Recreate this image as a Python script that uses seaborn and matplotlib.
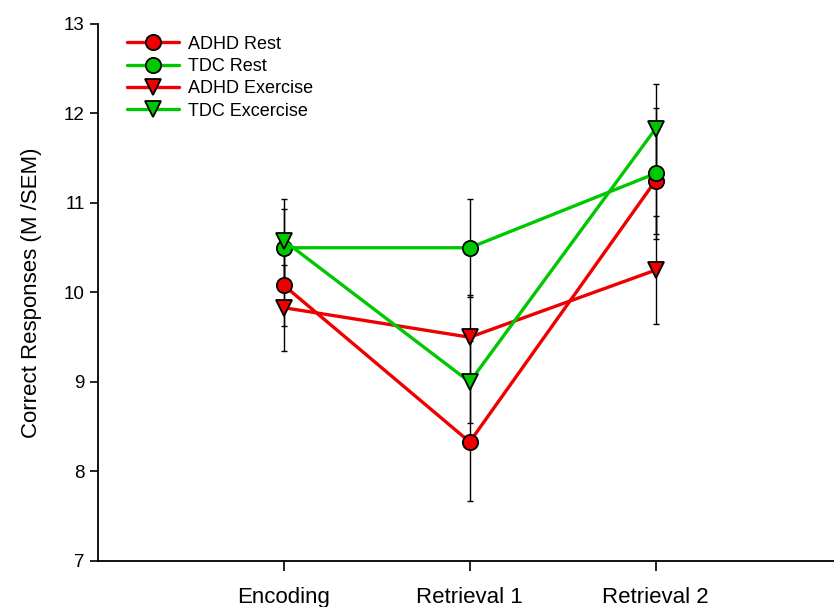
import matplotlib
matplotlib.use("Agg")
import matplotlib.pyplot as plt
import seaborn as sns
import pandas as pd
import numpy as np
from matplotlib.lines import Line2D

phases = ["Encoding", "Retrieval 1", "Retrieval 2"]
series = ["ADHD Rest", "TDC Rest", "ADHD Exercise", "TDC Excercise"]
adhd_rest = [10.08, 8.33, 11.25]
tdc_rest = [10.50, 10.50, 11.33]
adhd_ex = [9.83, 9.50, 10.25]
tdc_ex = [10.58, 9.00, 11.83]
adhd_rest_sem = [0.45, 0.66, 0.60]
tdc_rest_sem = [0.43, 0.55, 0.73]
adhd_ex_sem = [0.48, 0.47, 0.60]
tdc_ex_sem = [0.46, 0.46, 0.50]
yticks = [7, 8, 9, 10, 11, 12, 13]

means = [adhd_rest, tdc_rest, adhd_ex, tdc_ex]
sems = [adhd_rest_sem, tdc_rest_sem, adhd_ex_sem, tdc_ex_sem]
xpos = [1, 2, 3]

rows = []
for s, m, e in zip(series, means, sems):
    for x, v, err in zip(xpos, m, e):
        rows.append({"series": s, "x": x, "y": v, "err": err})
df = pd.DataFrame(rows)

sns.set_style("ticks")
plt.rcParams["font.family"] = ["Liberation Sans", "DejaVu Sans"]
plt.rcParams["text.color"] = "black"
plt.rcParams["axes.labelcolor"] = "black"
plt.rcParams["xtick.color"] = "black"
plt.rcParams["ytick.color"] = "black"
plt.rcParams["axes.edgecolor"] = "black"

red = "#EE0000"
green = "#00C800"
palette = {"ADHD Rest": red, "TDC Rest": green, "ADHD Exercise": red, "TDC Excercise": green}
markers = {"ADHD Rest": "o", "TDC Rest": "o", "ADHD Exercise": "v", "TDC Excercise": "v"}

fig = plt.figure(figsize=(8.34, 6.07), dpi=100)
ax = fig.add_axes([0.1175, 0.0758, 0.8825, 0.8847])

# error bars (black)
for s in series:
    d = df[df["series"] == s]
    ax.errorbar(d["x"], d["y"], yerr=d["err"], fmt="none", ecolor="black", elinewidth=1.0,
                capsize=2.5, capthick=1.0, zorder=1)

sns.lineplot(data=df, x="x", y="y", hue="series", style="series", hue_order=series,
             style_order=series, palette=palette, markers=markers, dashes=False,
             markersize=11, markeredgecolor="black", markeredgewidth=1.3,
             linewidth=2.4, ax=ax, legend=False, zorder=2)

ax.set_xlim(0, 3.96)
ax.set_ylim(7, 13)
ax.set_yticks(yticks)
ax.set_yticklabels([str(v) for v in yticks], fontsize=13.5)
ax.set_xticks(xpos)
ax.set_xticklabels(phases, fontsize=16)
ax.tick_params(axis="x", pad=12, length=7, width=1.2, direction="out")
ax.tick_params(axis="y", length=6, width=1.2, direction="out")
ax.set_xlabel("")
ax.set_ylabel("Correct Responses (M /SEM)", fontsize=16, labelpad=16)
for sp in ["top", "right"]:
    ax.spines[sp].set_visible(False)
ax.spines["left"].set_linewidth(1.3)
ax.spines["bottom"].set_linewidth(1.3)

handles = [Line2D([0], [0], color=palette[s], marker=markers[s], markersize=11,
                  markeredgecolor="black", markeredgewidth=1.3, linewidth=2.4)
           for s in series]
ax.legend(handles, series, loc="upper left", bbox_to_anchor=(0.022, 1.002), frameon=False,
          fontsize=13, handlelength=2.9, handletextpad=0.5, labelspacing=0.3,
          borderaxespad=0.3)

fig.savefig("out.png", dpi=100)
